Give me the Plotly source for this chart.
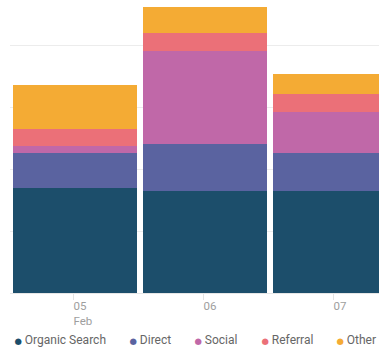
import plotly.graph_objects as go

categories = ["05", "06", "07"]
tick_labels = ["05<br>Feb", "06", "07"]

organic_search = [169, 165, 165]
direct = [57, 76, 61]
social = [11, 150, 66]
referral = [27, 29, 29]
other = [71, 42, 32]

series_names = ["Organic Search", "Direct", "Social", "Referral", "Other"]
series_values = [organic_search, direct, social, referral, other]
series_colors = ["#1c4e6b", "#5a63a0", "#c068a8", "#eb7078", "#f4ab34"]
legend_entry_widths = [85, 35, 37, 64, 0]
legend_ids = ["legend", "legend", "legend", "legend", "legend2"]

fig = go.Figure()
for name, vals, color in zip(series_names, series_values, series_colors):
    fig.add_trace(go.Bar(
        x=categories, y=vals, name=name, marker=dict(color=color, line=dict(width=0)),
        width=0.9538, offset=-0.4615, showlegend=False, legendgroup=name,
    ))
for name, color, lw, lg in zip(series_names, series_colors, legend_entry_widths, legend_ids):
    fig.add_trace(go.Scatter(
        x=[None], y=[None], mode="markers", legendgroup=name, legend=lg,
        name=(f'<span style="color:{color};font-family:\'DejaVu Sans\';font-size:8.5px">●</span>'
              f' {name}'),
        marker=dict(color="rgba(0,0,0,0)", size=1, line=dict(width=0)), showlegend=True,
        legendwidth=lw if lw else None, hoverinfo="skip",
    ))

legend_style = dict(
    orientation="h", xanchor="left", y=-0.1075, yanchor="top",
    traceorder="normal", font=dict(size=12, color="#666666"),
    itemwidth=30, indentation=-15, bgcolor="rgba(0,0,0,0)",
)

fig.update_layout(
    width=379, height=356,
    margin=dict(l=10, r=0, t=0, b=63, autoexpand=False),
    barmode="stack",
    paper_bgcolor="white", plot_bgcolor="white",
    font=dict(family="Roboto", size=12, color="#666666"),
    showlegend=True,
    legend=dict(x=-0.0557, **legend_style),
    legend2=dict(x=0.8168, **legend_style),
    xaxis=dict(
        type="category", range=[-0.4846, 2.3538],
        tickvals=categories, ticktext=tick_labels,
        ticks="outside", ticklen=6, tickcolor="#e3e3e3", tickwidth=1,
        ticklabelposition="outside right", ticklabelstandoff=2,
        tickfont=dict(size=11.5, color="#9e9e9e"),
        showgrid=False, showline=False, zeroline=False,
    ),
    yaxis=dict(
        range=[0, 472.6], dtick=100, tick0=0,
        showticklabels=False, showgrid=True, gridcolor="#ececec", gridwidth=1,
        zeroline=True, zerolinecolor="#e6e6e6", zerolinewidth=1,
    ),
)

fig.write_html("out.html", config={"displayModeBar": False},
               post_script="document.body.style.margin='0';")
